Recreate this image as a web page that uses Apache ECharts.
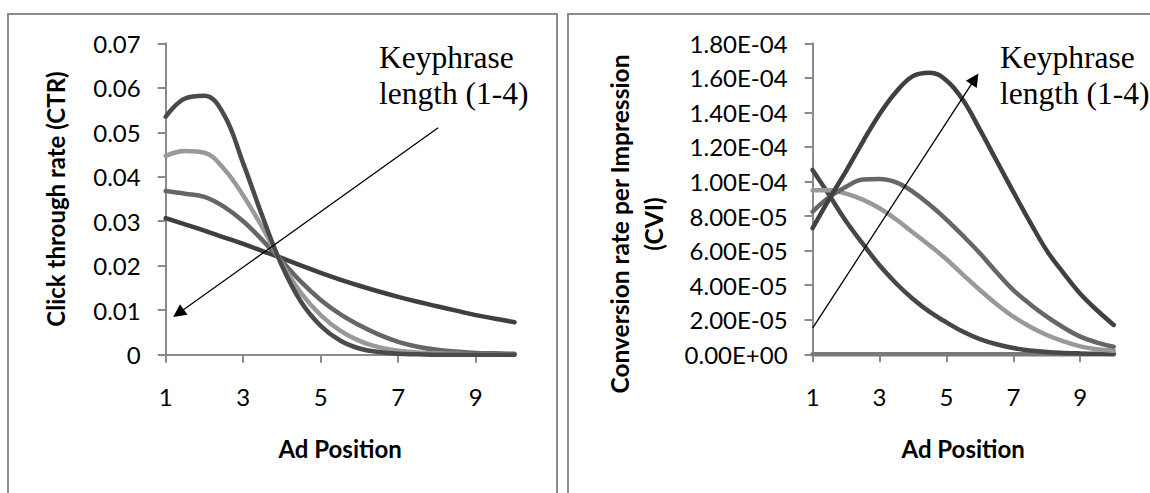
<!DOCTYPE html>
<html><head><meta charset="utf-8">
<script src="https://cdn.jsdelivr.net/npm/echarts@6/dist/echarts.min.js"></script>
<style>html,body{margin:0;padding:0;background:#fff}#c{width:1150px;height:493px}</style>
</head><body><div id="c"></div>
<script>
// ---- data (values at half-position steps) ----
const positions = [1, 1.5, 2, 2.5, 3, 3.5, 4, 4.5, 5, 5.5, 6, 6.5, 7, 7.5, 8, 8.5, 9, 9.5, 10];
const xTickValues = [1, 3, 5, 7, 9];
// Click through rate by keyphrase length
const ctrLen1 = [0.0535, 0.0576, 0.0582, 0.0540, 0.0430, 0.0310, 0.0200, 0.0118, 0.0065, 0.0032, 0.0014, 0.0006, 0.0002, 0.0001, 0.0000, 0.0000, 0.0000, 0.0000, 0.0000];
const ctrLen2 = [0.0447, 0.0458, 0.0454, 0.0418, 0.0358, 0.0285, 0.0205, 0.0138, 0.0089, 0.0054, 0.0031, 0.0017, 0.0009, 0.0005, 0.0003, 0.0002, 0.0001, 0.0001, 0.0000];
const ctrLen3 = [0.0368, 0.0362, 0.0355, 0.0333, 0.0300, 0.0257, 0.0210, 0.0163, 0.0123, 0.0091, 0.0066, 0.0045, 0.0029, 0.0018, 0.0011, 0.0007, 0.0004, 0.0003, 0.0002];
const ctrLen4 = [0.0307, 0.0293, 0.0279, 0.0264, 0.0249, 0.0233, 0.0217, 0.0200, 0.0184, 0.0169, 0.0155, 0.0142, 0.0130, 0.0119, 0.0109, 0.0099, 0.0089, 0.0081, 0.0073];
// Conversion rate per impression by keyphrase length
const cviLen1 = [1.067e-4, 9.2e-5, 7.7e-5, 6.4e-5, 5.15e-5, 4.1e-5, 3.2e-5, 2.45e-5, 1.85e-5, 1.3e-5, 8.8e-6, 5.8e-6, 3.6e-6, 2.2e-6, 1.3e-6, 8e-7, 5e-7, 3e-7, 2e-7];
const cviLen2 = [9.5e-5, 9.5e-5, 9.3e-5, 8.95e-5, 8.45e-5, 7.8e-5, 7.05e-5, 6.3e-5, 5.5e-5, 4.6e-5, 3.72e-5, 2.9e-5, 2.18e-5, 1.6e-5, 1.12e-5, 7.5e-6, 4.6e-6, 2.9e-6, 2.0e-6];
const cviLen3 = [8.25e-5, 9.1e-5, 9.7e-5, 1.012e-4, 1.015e-4, 9.95e-5, 9.4e-5, 8.65e-5, 7.8e-5, 6.85e-5, 5.85e-5, 4.75e-5, 3.72e-5, 2.9e-5, 2.18e-5, 1.55e-5, 1.02e-5, 6.8e-6, 4.4e-6];
const cviLen4 = [7.3e-5, 9.0e-5, 1.06e-4, 1.23e-4, 1.39e-4, 1.52e-4, 1.61e-4, 1.63e-4, 1.585e-4, 1.47e-4, 1.30e-4, 1.12e-4, 9.4e-5, 7.65e-5, 6.0e-5, 4.7e-5, 3.5e-5, 2.55e-5, 1.7e-5];
const cviZero = [0, 0, 0, 0, 0, 0, 0, 0, 0, 0, 0, 0, 0, 0, 0, 0, 0, 0, 0];
// annotation arrows (data units: [position, value])
const ctrArrow = [[8.03, 0.0510], [1.33, 0.0093]];
const cviArrow = [[1.0, 1.52e-5], [5.85, 1.594e-4]];
const annotation = 'Keyphrase\nlength (1-4)';

const pairs = arr => positions.map((x, i) => [x, arr[i]]);
const sci = v => {
  const [m, e] = Number(v).toExponential(2).split('e');
  return m + 'E' + e[0] + e.slice(1).padStart(2, '0');
};

const tickFont = {fontFamily: 'Lato', fontSize: 24, color: '#000'};
const titleFont = {fontFamily: 'Lato', fontWeight: 'bold', fontSize: 24, color: '#000'};
const axisLineStyle = {color: '#8a8a8a', width: 2};

function xAxisCfg(gridIndex) {
  return {
    type: 'value', gridIndex, min: 1, max: 10,
    name: 'Ad Position', nameLocation: 'middle', nameGap: 82,
    nameTextStyle: titleFont,
    axisLine: {show: true, onZero: false, lineStyle: axisLineStyle},
    axisTick: {show: true, inside: false, length: 8, lineStyle: axisLineStyle, customValues: xTickValues},
    axisLabel: Object.assign({margin: 30, customValues: xTickValues}, tickFont),
    splitLine: {show: false}
  };
}
function arrowLine(pts) {
  return {
    silent: true, animation: false,
    symbol: ['none', 'triangle'], symbolSize: 13,
    lineStyle: {color: '#000', width: 1.3, type: 'solid'},
    itemStyle: {color: '#000'},
    label: {show: false},
    emphasis: {disabled: true},
    data: [[{coord: pts[0]}, {coord: pts[1]}]]
  };
}
function lineSeries(name, arr, color, xi, extra) {
  return Object.assign({
    type: 'line', name, xAxisIndex: xi, yAxisIndex: xi,
    data: pairs(arr), smooth: 0.4, showSymbol: false, symbol: 'none', clip: false,
    lineStyle: {color, width: 4.5, cap: 'round', join: 'round'},
    itemStyle: {color}, emphasis: {disabled: true}, z: 3
  }, extra || {});
}

const chart = echarts.init(document.getElementById('c'), null, {renderer: 'svg'});
chart.setOption({
  animation: false,
  backgroundColor: '#fff',
  grid: [
    {left: 165.7, top: 43.3, width: 348.8, height: 311.4},
    {left: 812.6, top: 43.3, width: 301.1, height: 311.0}
  ],
  xAxis: [xAxisCfg(0), xAxisCfg(1)],
  yAxis: [
    {type: 'value', gridIndex: 0, min: 0, max: 0.07, interval: 0.01,
     axisLine: {show: true, lineStyle: axisLineStyle},
     axisTick: {show: true, length: 8, lineStyle: axisLineStyle},
     axisLabel: Object.assign({margin: 25, formatter: v => v === 0 ? '0' : v.toFixed(2)}, tickFont),
     splitLine: {show: false}},
    {type: 'value', gridIndex: 1, min: 0, max: 1.8e-4, interval: 2e-5,
     axisLine: {show: true, lineStyle: axisLineStyle},
     axisTick: {show: true, length: 8, lineStyle: axisLineStyle},
     axisLabel: Object.assign({margin: 25, formatter: sci}, tickFont),
     splitLine: {show: false}}
  ],
  graphic: [
    {type: 'rect', shape: {x: 8, y: 14, width: 549, height: 520}, style: {fill: 'none', stroke: '#8c8c8c', lineWidth: 2}, silent: true},
    {type: 'rect', shape: {x: 568, y: 14, width: 620, height: 520}, style: {fill: 'none', stroke: '#8c8c8c', lineWidth: 2}, silent: true},
    {type: 'text', x: 55, y: 199, rotation: Math.PI / 2, silent: true,
     style: {text: 'Click through rate (CTR)', fontFamily: 'Lato', fontWeight: 'bold', fontSize: 24, fill: '#000', align: 'center', verticalAlign: 'middle'}},
    {type: 'text', x: 636, y: 224, rotation: Math.PI / 2, silent: true,
     style: {text: 'Conversion rate per Impression\n(CVI)', fontFamily: 'Lato', fontWeight: 'bold', fontSize: 24.5, lineHeight: 34, fill: '#000', align: 'center', verticalAlign: 'middle'}},
    {type: 'text', x: 379, y: 39, silent: true,
     style: {text: annotation, fontFamily: 'Liberation Serif', fontSize: 31.5, lineHeight: 36, fill: '#000', align: 'left', verticalAlign: 'top'}},
    {type: 'text', x: 1000, y: 39, silent: true,
     style: {text: annotation, fontFamily: 'Liberation Serif', fontSize: 31.5, lineHeight: 36, fill: '#000', align: 'left', verticalAlign: 'top'}}
  ],
  series: [
    lineSeries('Length 4', ctrLen4, '#3f3f3f', 0, {markLine: arrowLine(ctrArrow)}),
    lineSeries('Length 3', ctrLen3, '#666666', 0),
    lineSeries('Length 2', ctrLen2, '#999999', 0),
    lineSeries('Length 1', ctrLen1, '#4a4a4a', 0),
    lineSeries('Zero', cviZero, '#7a7a7a', 1),
    lineSeries('Length 1', cviLen1, '#474747', 1),
    lineSeries('Length 2', cviLen2, '#999999', 1),
    lineSeries('Length 3', cviLen3, '#666666', 1),
    lineSeries('Length 4', cviLen4, '#404040', 1, {markLine: arrowLine(cviArrow)})
  ]
});
</script></body></html>
